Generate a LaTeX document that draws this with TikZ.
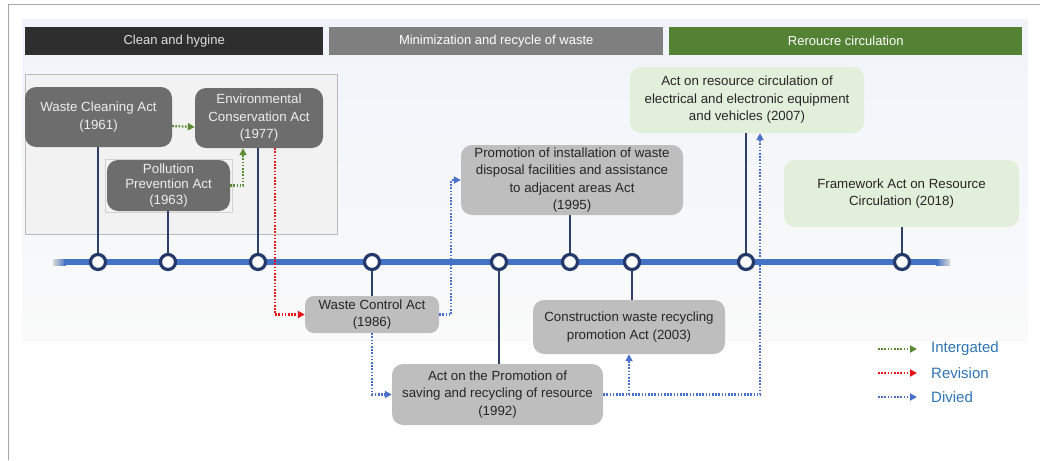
\documentclass[tikz,border=0pt]{standalone}
\usepackage{fontspec}
\setmainfont{Liberation Sans}
\usetikzlibrary{arrows.meta}

\definecolor{hdrdark}{HTML}{2E2E2E}
\definecolor{hdrgray}{HTML}{7F7F7F}
\definecolor{hdrgreen}{HTML}{548235}
\definecolor{actdark}{HTML}{6D6D6D}
\definecolor{actlight}{HTML}{BEBEBE}
\definecolor{actgreen}{HTML}{E2EFDA}
\definecolor{tlblue}{HTML}{4472C4}
\definecolor{navy}{HTML}{24386A}
\definecolor{stemc}{HTML}{2F3F6B}
\definecolor{integc}{HTML}{5A8A34}
\definecolor{revc}{HTML}{E8141B}
\definecolor{divc}{HTML}{4A6FC8}
\definecolor{legc}{HTML}{2E75B6}
\definecolor{txtdark}{HTML}{262626}
\definecolor{paneltop}{HTML}{F0F4FA}
\definecolor{panelbot}{HTML}{FAFAFA}

\begin{document}
\begin{tikzpicture}[x=1pt,y=-1pt,
  hdr/.style={minimum height=28pt, inner sep=0pt, anchor=north west,
    font=\fontsize{13}{15}\selectfont},
  act/.style={rounded corners=11pt, inner sep=0pt, align=center,
    font=\fontsize{13.3}{17.5}\selectfont},
  actd/.style={act, fill=actdark, text=white!93!black},
  actl/.style={act, fill=actlight, text=txtdark},
  actg/.style={act, fill=actgreen, text=txtdark},
  tick/.style={circle, draw=navy, line width=3.2pt, fill=white,
    minimum size=15pt, inner sep=0pt},
  stem/.style={draw=stemc, line width=2.5pt},
  dotted arrow/.style={line width=2.2pt, dash pattern=on 1.6pt off 1.6pt,
    -{Triangle[length=7pt,width=7pt]}},
  integ/.style={dotted arrow, draw=integc},
  revis/.style={dotted arrow, draw=revc},
  divid/.style={dotted arrow, draw=divc},
  legend/.style={anchor=west, text=legc, inner sep=0pt,
    font=\fontsize{15}{17}\selectfont}
]
\useasboundingbox (0,0) rectangle (1040,460);

% page frame (top and left edges)
\draw[gray!70, line width=1pt] (8,460) -- (8,4.5) -- (1040,4.5);

% pale background panel
\shade[top color=paneltop, bottom color=panelbot]
  (22,20) rectangle (1028,341);

% period headers
\node[hdr, fill=hdrdark, minimum width=298pt, text=white!88!black] (h1) at (25,27) {Clean and hygine};
\node[hdr, fill=hdrgray, minimum width=334pt, text=white] (h2) at (329,27) {Minimization and recycle of waste};
\node[hdr, fill=hdrgreen, minimum width=353pt, text=white] (h3) at (669,27) {Reroucre circulation};

% group frame of the early acts
\draw[fill=white!95!black, draw=gray!55, line width=0.8pt] (25,74) rectangle (337,234);

% acts
\node[actd, minimum width=147pt, minimum height=60pt] (wca) at (98.5,117) {Waste Cleaning Act\\(1961)};
\node[actd, minimum width=128pt, minimum height=60pt] (eca) at (259,118) {Environmental\\Conservation Act\\(1977)};
\node[actd, minimum width=123pt, minimum height=51pt, font=\fontsize{13.3}{15.5}\selectfont] (ppa) at (168.5,185.5) {Pollution\\Prevention Act\\(1963)};
\draw[gray!35, line width=0.6pt] ([shift={(-2pt,-1pt)}]ppa.south west) rectangle ([shift={(2pt,1pt)}]ppa.north east);

\node[actl, minimum width=134pt, minimum height=37pt, rounded corners=9pt, font=\fontsize{13.3}{16.5}\selectfont] (wcon) at (372,314.5) {Waste Control Act\\(1986)};
\node[actl, minimum width=222pt, minimum height=70pt] (a1995) at (572,180) {Promotion of installation of waste\\disposal facilities and assistance\\to adjacent areas Act\\(1995)};
\node[actl, minimum width=211pt, minimum height=61pt] (a1992) at (497.5,394.5) {Act on the Promotion of\\saving and recycling of resource\\(1992)};
\node[actl, minimum width=192pt, minimum height=54pt] (a2003) at (629,327) {Construction waste recycling\\promotion Act (2003)};
\node[actg, minimum width=234pt, minimum height=66pt] (a2007) at (747,100) {Act on resource circulation of\\electrical and electronic equipment\\and vehicles (2007)};
\node[actg, minimum width=235pt, minimum height=67pt] (a2018) at (901.5,193.5) {Framework Act on Resource\\Circulation (2018)};

% timeline
\coordinate (tls) at (64,262);
\coordinate (tle) at (938,262);
\shade[left color=gray!30, right color=tlblue] (53,259) rectangle (66,265);
\shade[left color=tlblue, right color=gray!30] (936,259) rectangle (950,265);
\draw[tlblue, line width=6pt] (tls) -- (tle);

\foreach \n/\x in {c1/98, c2/168, c3/258, c4/372, c5/499, c6/570, c7/632, c8/746, c9/902}
  \coordinate (\n p) at (\x,262);

% stems from acts to the timeline
\draw[stem] (wca.south -| c1p) -- (c1p);
\draw[stem] (ppa.south -| c2p) -- (c2p);
\draw[stem] (eca.south -| c3p) -- (c3p);
\draw[stem] (c4p) -- (wcon.north -| c4p);
\draw[stem] (c5p) -- (a1992.north -| c5p);
\draw[stem] (a1995.south -| c6p) -- (c6p);
\draw[stem] (c7p) -- (a2003.north -| c7p);
\draw[stem] (a2007.south -| c8p) -- (c8p);
\draw[stem] (a2018.south -| c9p) -- (c9p);

% year markers
\foreach \n in {c1,c2,c3,c4,c5,c6,c7,c8,c9}
  \node[tick] (\n) at (\n p) {};

% relations between acts
\draw[integ] ([yshift=-9pt]wca.east) -- ([yshift=-9pt]eca.west);
\draw[integ] (ppa.east) -| ([xshift=-16pt]eca.south);
\draw[revis] ([xshift=16pt]eca.south) |- (wcon.west);
\draw[divid] (wcon.east) -- ++(12,0) |- (a1995.west);
\draw[divid] (wcon.south) |- (a1992.west);
\draw[divid] (a1992.east) -| ([xshift=13pt]a2007.south);
\draw[divid] (a1992.east -| a2003.south) -- (a2003.south);

% legend
\coordinate (l1s) at (878,349); \coordinate (l1e) at (917,349);
\coordinate (l2s) at (878,373); \coordinate (l2e) at (917,373);
\coordinate (l3s) at (878,397); \coordinate (l3e) at (917,397);
\draw[integ] (l1s) -- (l1e);
\draw[revis] (l2s) -- (l2e);
\draw[divid] (l3s) -- (l3e);
\node[legend] (lg1) at (931,349) {Intergated};
\node[legend] (lg2) at (931,373) {Revision};
\node[legend] (lg3) at (931,397) {Divied};
\end{tikzpicture}
\end{document}
